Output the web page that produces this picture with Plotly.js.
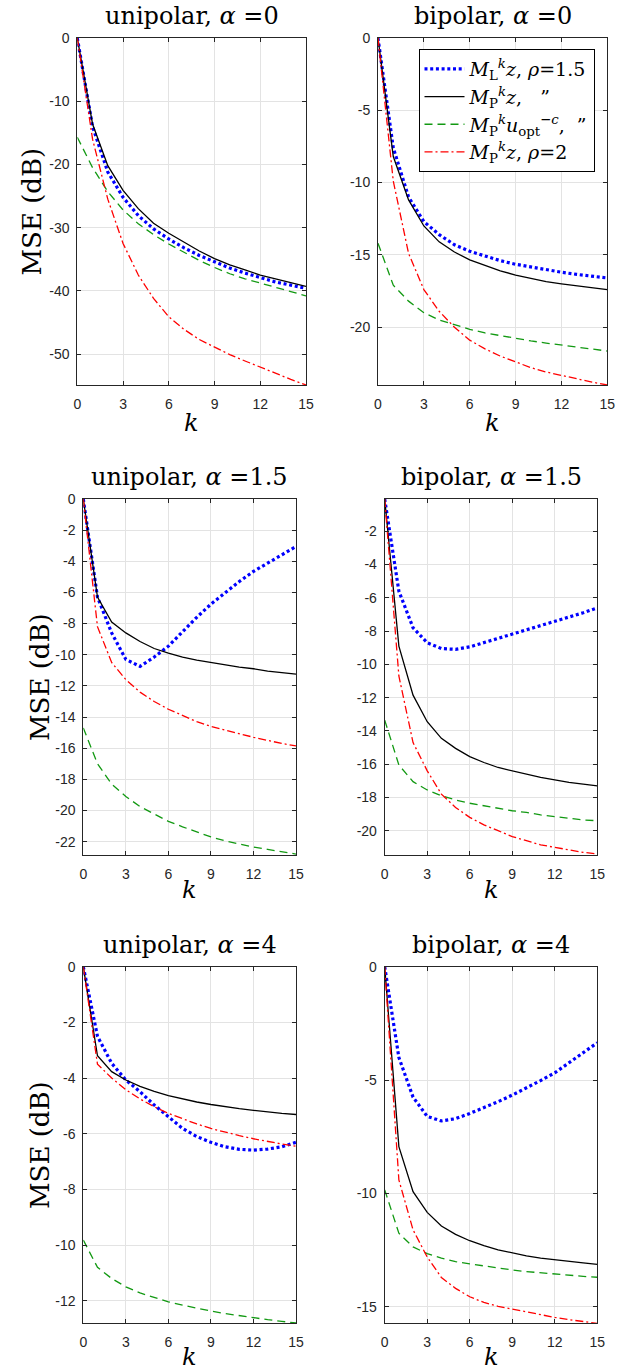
<!DOCTYPE html>
<html><head><meta charset="utf-8">
<script src="https://cdn.plot.ly/plotly-3.0.1.min.js"></script>
<style>html,body{margin:0;padding:0;background:#fff}#chart{width:633px;height:1372px}</style>
</head><body><div id="chart"></div>
<script>
// ---------------- data ----------------
const k = [0,1,2,3,4,5,6,7,8,9,10,11,12,13,14,15];

const panelTitles = ['unipolar, <i>α</i> =0','bipolar, <i>α</i> =0',
                     'unipolar, <i>α</i> =1.5','bipolar, <i>α</i> =1.5',
                     'unipolar, <i>α</i> =4','bipolar, <i>α</i> =4'];

const seriesNames = [
  '<i>M</i><sub>L</sub><sup><i>k</i></sup><i>z</i>, <i>ρ</i>=1.5',
  '<i>M</i><sub>P</sub><sup><i>k</i></sup><i>z</i>,\u00a0\u00a0\u00a0”',
  '<i>M</i><sub>P</sub><sup><i>k</i></sup><i>u</i><sub>opt</sub><sup>−<i>c</i></sup>,\u00a0\u00a0”',
  '<i>M</i><sub>P</sub><sup><i>k</i></sup><i>z</i>, <i>ρ</i>=2'
];

// unipolar, alpha = 0
const uni0_ML = [0,-14.0,-21.2,-25.2,-28.1,-30.2,-31.8,-33.2,-34.4,-35.4,-36.4,-37.2,-37.9,-38.6,-39.1,-39.6];
const uni0_MP = [0,-13.6,-20.2,-24.1,-27.0,-29.3,-30.9,-32.3,-33.7,-34.9,-35.9,-36.7,-37.5,-38.1,-38.7,-39.3];
const uni0_MU = [-15.7,-20.5,-24.3,-27.2,-29.4,-31.1,-32.6,-33.9,-35.2,-36.3,-37.3,-38.1,-38.8,-39.5,-40.2,-40.8];
const uni0_MP2 = [0,-16.0,-25.5,-32.5,-37.5,-41.2,-44.1,-46.1,-47.7,-48.9,-50.1,-51.1,-52.1,-53.1,-54.0,-54.9];
// bipolar, alpha = 0
const bip0_ML = [0,-7.6,-11.0,-12.7,-13.6,-14.3,-14.75,-15.1,-15.4,-15.65,-15.85,-16.05,-16.2,-16.35,-16.5,-16.6];
const bip0_MP = [0,-8.2,-11.2,-13.0,-14.1,-14.8,-15.35,-15.75,-16.1,-16.4,-16.65,-16.85,-17.0,-17.15,-17.3,-17.4];
const bip0_MU = [-14.2,-17.1,-18.2,-19.0,-19.5,-19.85,-20.15,-20.4,-20.6,-20.8,-20.95,-21.1,-21.25,-21.4,-21.5,-21.65];
const bip0_MP2 = [0,-9.9,-14.9,-17.4,-18.9,-20.0,-20.9,-21.5,-22.0,-22.4,-22.8,-23.1,-23.35,-23.6,-23.8,-24.0];
// unipolar, alpha = 1.5
const uni15_ML = [0,-6.3,-8.6,-10.3,-10.75,-10.15,-9.45,-8.5,-7.6,-6.75,-6.0,-5.3,-4.65,-4.1,-3.55,-3.05];
const uni15_MP = [0,-6.3,-7.9,-8.6,-9.15,-9.6,-9.9,-10.15,-10.35,-10.5,-10.65,-10.8,-10.9,-11.05,-11.15,-11.25];
const uni15_MU = [-14.7,-17.0,-18.3,-19.1,-19.75,-20.25,-20.7,-21.05,-21.4,-21.7,-21.95,-22.15,-22.35,-22.5,-22.65,-22.8];
const uni15_MP2 = [0,-8.2,-10.5,-11.6,-12.4,-13.0,-13.5,-13.9,-14.3,-14.6,-14.85,-15.1,-15.3,-15.5,-15.7,-15.85];
// bipolar, alpha = 1.5
const bip15_ML = [-0.06,-5.6,-7.8,-8.7,-9.05,-9.1,-8.95,-8.7,-8.4,-8.15,-7.9,-7.65,-7.4,-7.15,-6.9,-6.6];
const bip15_MP = [-0.06,-8.9,-11.85,-13.45,-14.45,-15.05,-15.55,-15.9,-16.2,-16.4,-16.6,-16.8,-16.95,-17.1,-17.2,-17.3];
const bip15_MU = [-13.35,-16.05,-17.05,-17.55,-17.9,-18.15,-18.35,-18.5,-18.65,-18.8,-18.9,-19.05,-19.15,-19.25,-19.35,-19.4];
const bip15_MP2 = [-0.06,-10.7,-14.7,-16.4,-17.8,-18.6,-19.2,-19.65,-20.0,-20.35,-20.6,-20.85,-21.0,-21.15,-21.3,-21.4];
// unipolar, alpha = 4
const uni4_ML = [0,-2.5,-3.47,-4.07,-4.49,-4.97,-5.39,-5.81,-6.1,-6.31,-6.47,-6.56,-6.59,-6.55,-6.47,-6.31];
const uni4_MP = [0,-3.2,-3.77,-4.07,-4.3,-4.48,-4.63,-4.75,-4.86,-4.95,-5.03,-5.1,-5.16,-5.22,-5.27,-5.31];
const uni4_MU = [-9.82,-10.8,-11.2,-11.5,-11.72,-11.89,-12.04,-12.16,-12.27,-12.37,-12.46,-12.54,-12.61,-12.68,-12.74,-12.8];
const uni4_MP2 = [0,-3.5,-4.0,-4.42,-4.75,-5.03,-5.27,-5.47,-5.65,-5.81,-5.95,-6.07,-6.18,-6.28,-6.37,-6.45];
// bipolar, alpha = 4
const bip4_ML = [0,-4.0,-5.75,-6.6,-6.8,-6.7,-6.47,-6.22,-5.95,-5.66,-5.35,-5.02,-4.68,-4.25,-3.8,-3.35];
const bip4_MP = [0,-7.93,-9.92,-10.83,-11.43,-11.8,-12.08,-12.3,-12.48,-12.63,-12.75,-12.85,-12.93,-13.0,-13.06,-13.12];
const bip4_MU = [-9.84,-11.75,-12.35,-12.65,-12.85,-13.0,-13.1,-13.2,-13.29,-13.37,-13.44,-13.5,-13.55,-13.6,-13.65,-13.69];
const bip4_MP2 = [0,-9.4,-11.6,-12.8,-13.7,-14.18,-14.55,-14.8,-14.97,-15.1,-15.22,-15.35,-15.46,-15.56,-15.65,-15.72];

const panels = [
  [uni0_ML, uni0_MP, uni0_MU, uni0_MP2],
  [bip0_ML, bip0_MP, bip0_MU, bip0_MP2],
  [uni15_ML, uni15_MP, uni15_MU, uni15_MP2],
  [bip15_ML, bip15_MP, bip15_MU, bip15_MP2],
  [uni4_ML, uni4_MP, uni4_MU, uni4_MP2],
  [bip4_ML, bip4_MP, bip4_MU, bip4_MP2]
];

const xTicks = [0,3,6,9,12,15];
const yTicks = [
  [0,-10,-20,-30,-40,-50],
  [0,-5,-10,-15,-20],
  [0,-2,-4,-6,-8,-10,-12,-14,-16,-18,-20,-22],
  [-2,-4,-6,-8,-10,-12,-14,-16,-18,-20],
  [0,-2,-4,-6,-8,-10,-12],
  [0,-5,-10,-15]
];
const yRanges = [[-54.9,0],[-24.0,0],[-22.86,0],[-21.46,-0.06],[-12.81,0],[-15.72,0]];
const xLabel = '<i>k</i>';
const yLabel = 'MSE (dB)';

// ---------------- layout helpers ----------------
const W = 633, H = 1372;
const px = v => v / W;
const py = v => 1 - v / H;
// pixel boxes [left, right, top, bottom]
const boxes = [
  [77.3, 306, 38, 385],
  [378, 607.3, 38, 385],
  [83.3, 296, 499, 855],
  [384.7, 597.3, 499, 855],
  [83.3, 296, 966.7, 1323.3],
  [384.7, 597.3, 966.7, 1323.3]
];
const xLabelOffset = [38, 38, 35, 35, 34, 34];

const styles = [
  {color:'#0000ff', dash:'3px,2.7px', width:3.2},
  {color:'#000000', dash:'solid', width:1.3},
  {color:'#129912', dash:'8px,5px', width:1.3},
  {color:'#ff0000', dash:'8px,3px,2px,3px', width:1.3}
];

const traces = [];
panels.forEach((series, p) => {
  const sfx = p === 0 ? '' : String(p + 1);
  series.forEach((ys, s) => {
    traces.push({
      type:'scatter', mode:'lines', x:k, y:ys,
      xaxis:'x'+sfx, yaxis:'y'+sfx,
      name: seriesNames[s], legendgroup:'g'+s, showlegend: p === 0,
      line:{color:styles[s].color, dash:styles[s].dash, width:styles[s].width},
      hoverinfo:'skip'
    });
  });
});

const layout = {
  width:W, height:H, margin:{l:0,r:0,t:0,b:0},
  paper_bgcolor:'#fff', plot_bgcolor:'#fff',
  showlegend:true,
  legend:{x:px(418.5), y:py(49), xanchor:'left', yanchor:'top',
          bgcolor:'#fff', bordercolor:'#000', borderwidth:1,
          font:{family:'DejaVu Serif', size:19, color:'#000'},
          tracegroupgap:0, itemwidth:40},
  annotations:[]
};

const axFont = {family:'Liberation Sans, Arial, sans-serif', size:14, color:'#262626'};
boxes.forEach((b, p) => {
  const sfx = p === 0 ? '' : String(p + 1);
  layout['xaxis'+sfx] = {
    domain:[px(b[0]), px(b[1])], anchor:'y'+sfx, range:[0,15],
    tickvals:xTicks, ticktext:xTicks.map(String),
    ticks:'inside', ticklen:4, tickcolor:'#262626', tickwidth:1,
    showline:true, linecolor:'#262626', linewidth:1, mirror:'ticks',
    showgrid:true, gridcolor:'#e3e3e3', gridwidth:1, zeroline:false,
    tickfont:axFont, ticklabelstandoff:6, fixedrange:true
  };
  layout['yaxis'+sfx] = {
    domain:[py(b[3]), py(b[2])], anchor:'x'+sfx, range:yRanges[p],
    tickvals:yTicks[p], ticktext:yTicks[p].map(String),
    ticks:'inside', ticklen:4, tickcolor:'#262626', tickwidth:1,
    showline:true, linecolor:'#262626', linewidth:1, mirror:'ticks',
    showgrid:true, gridcolor:'#e3e3e3', gridwidth:1, zeroline:false,
    tickfont:axFont, ticklabelstandoff:4, fixedrange:true
  };
  const cx = (b[0] + b[1]) / 2;
  layout.annotations.push({
    text:panelTitles[p], xref:'paper', yref:'paper', x:px(cx), y:py(b[2] - 22),
    xanchor:'center', yanchor:'middle', showarrow:false,
    font:{family:'DejaVu Serif', size:24, color:'#000'}
  });
  layout.annotations.push({
    text:xLabel, xref:'paper', yref:'paper', x:px(cx), y:py(b[3] + xLabelOffset[p]),
    xanchor:'center', yanchor:'middle', showarrow:false,
    font:{family:'DejaVu Serif', size:24, color:'#000'}
  });
  if (p % 2 === 0) {
    layout.annotations.push({
      text:yLabel, xref:'paper', yref:'paper', x:px(p === 0 ? 32 : 40), y:py((b[2] + b[3]) / 2),
      xanchor:'center', yanchor:'middle', textangle:-90, showarrow:false,
      font:{family:'DejaVu Serif', size:26, color:'#000'}
    });
  }
});

Plotly.newPlot('chart', traces, layout, {displayModeBar:false, staticPlot:true});
</script>
</body></html>
